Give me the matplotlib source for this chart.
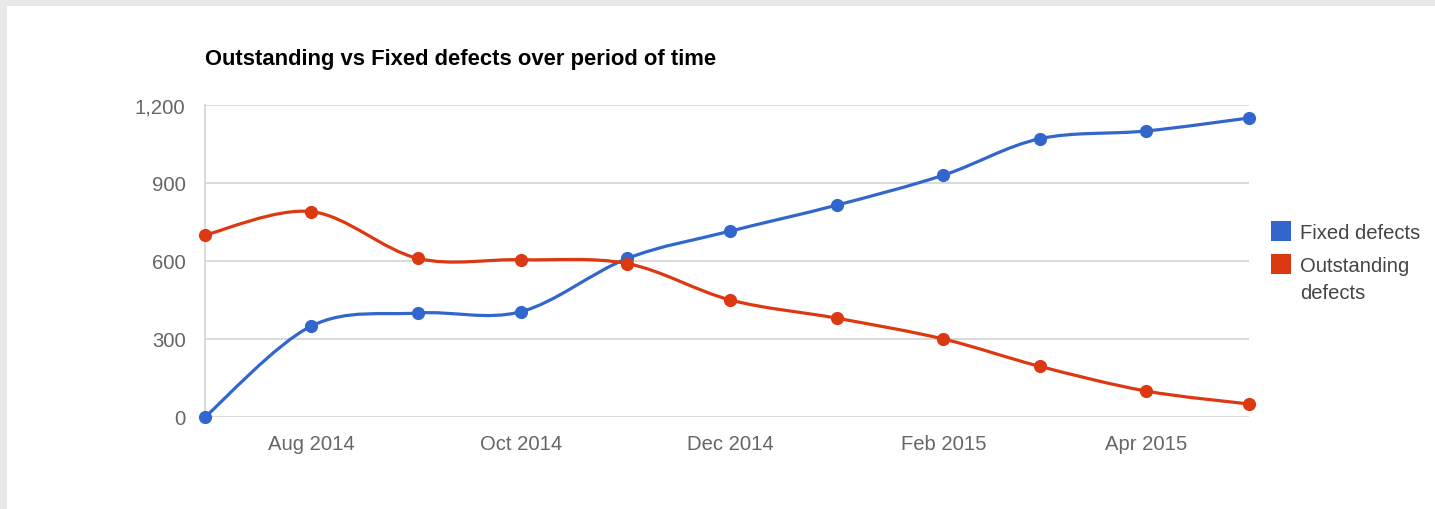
import matplotlib
matplotlib.use("Agg")
import matplotlib.pyplot as plt
import matplotlib.dates as mdates
from matplotlib.path import Path
from matplotlib.patches import PathPatch, Rectangle
import numpy as np
import datetime as dt

months = ["2014-07-01", "2014-08-01", "2014-09-01", "2014-10-01", "2014-11-01",
          "2014-12-01", "2015-01-01", "2015-02-01", "2015-03-01", "2015-04-01",
          "2015-05-01"]
fixed_defects = [0, 350, 400, 405, 610, 715, 815, 930, 1070, 1100, 1150]
outstanding_defects = [700, 790, 610, 605, 590, 450, 380, 300, 195, 100, 50]
tick_months = ["2014-08-01", "2014-10-01", "2014-12-01", "2015-02-01", "2015-04-01"]
tick_labels = ["Aug 2014", "Oct 2014", "Dec 2014", "Feb 2015", "Apr 2015"]
y_ticks = [0, 300, 600, 900, 1200]
y_tick_labels = ["0", "300", "600", "900", "1,200"]
series_names = ["Fixed defects", "Outstanding\ndefects"]
colors = ["#3366cc", "#dc3912"]
title = "Outstanding vs Fixed defects over period of time"

plt.rcParams['font.family'] = ['Liberation Sans', 'DejaVu Sans']

W, H = 1435, 510
fig = plt.figure(figsize=(W / 100, H / 100), dpi=100)
fig.patch.set_facecolor("white")
# gray frame strips (top and left)
fig.patches.append(Rectangle((0, 1 - 7 / H), 1, 7 / H, transform=fig.transFigure,
                             facecolor="#e9e9e9", edgecolor="none", zorder=0))
fig.patches.append(Rectangle((0, 0), 7 / W, 1, transform=fig.transFigure,
                             facecolor="#e9e9e9", edgecolor="none", zorder=0))

x0, x1, ytop, ybot = 205, 1249, 106, 418
ax = fig.add_axes([x0 / W, 1 - ybot / H, (x1 - x0) / W, (ybot - ytop) / H])
ax.set_facecolor("none")

xs = mdates.date2num([dt.datetime.strptime(m, "%Y-%m-%d") for m in months])


def smooth_path(x, y, t=1 / 6):
    pts = np.column_stack([x, y]).astype(float)
    n = len(pts)
    verts = [pts[0]]
    codes = [Path.MOVETO]
    for i in range(n - 1):
        p0 = pts[max(i - 1, 0)]
        p1 = pts[i]
        p2 = pts[i + 1]
        p3 = pts[min(i + 2, n - 1)]
        c1 = p1 + (p2 - p0) * t
        c2 = p2 - (p3 - p1) * t
        verts += [c1, c2, p2]
        codes += [Path.CURVE4] * 3
    return Path(verts, codes)


for vals, c in zip([fixed_defects, outstanding_defects], colors):
    patch = PathPatch(smooth_path(xs, vals), facecolor="none", edgecolor=c,
                      linewidth=2.3, zorder=3, capstyle="round", joinstyle="round",
                      clip_on=False)
    ax.add_patch(patch)
    ax.plot(xs, vals, linestyle="none", marker="o", markersize=9.5, color=c,
            markeredgewidth=0, zorder=4, clip_on=False)

ax.set_xlim(xs[0], xs[-1])
ax.set_ylim(0, 1200)
ax.set_yticks(y_ticks)
ax.set_yticklabels(y_tick_labels)
tx = mdates.date2num([dt.datetime.strptime(m, "%Y-%m-%d") for m in tick_months])
ax.set_xticks(tx)
ax.set_xticklabels(tick_labels)
ax.tick_params(axis="both", length=0, labelsize=14.6, labelcolor="#666666")
ax.tick_params(axis="y", pad=14)
ax.tick_params(axis="x", pad=12)
ax.grid(axis="y", color="#d9d9d9", linewidth=1.4, zorder=0)
ax.set_axisbelow(True)
for s in ["top", "right", "bottom"]:
    ax.spines[s].set_visible(False)
ax.spines["left"].set_color("#d9d9d9")
ax.spines["left"].set_linewidth(1.4)
ax.spines["left"].set_zorder(0)

fig.text(x0 / W, 1 - 60 / H, title, fontsize=15.8, fontweight="bold",
         color="#000000", ha="left", va="center")

# legend
lx, sq = 1271, 20
for i, (name, c) in enumerate(zip(series_names, colors)):
    cy = 232 + i * 33
    fig.patches.append(Rectangle((lx / W, 1 - (cy + sq / 2) / H), sq / W, sq / H,
                                 transform=fig.transFigure, facecolor=c,
                                 edgecolor="none"))
    fig.text(1300 / W, 1 - (cy - 8) / H, name, fontsize=14.6, color="#444444",
             ha="left", va="top", linespacing=1.55)

fig.savefig("out.png", dpi=100)
